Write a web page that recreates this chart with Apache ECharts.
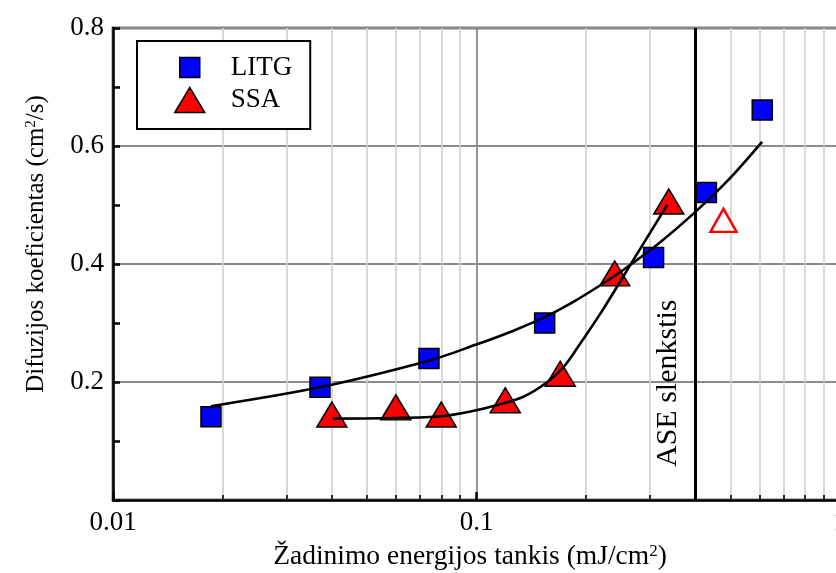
<!DOCTYPE html>
<html>
<head>
<meta charset="utf-8">
<script src="https://cdn.jsdelivr.net/npm/echarts@6/dist/echarts.min.js"></script>
<style>
  html, body { margin: 0; padding: 0; background: #fff; }
  #chart { width: 836px; height: 573px; }
</style>
</head>
<body>
<div id="chart"></div>
<script>
const FONT = '"Liberation Serif", "Times New Roman", serif';

// LITG measurements: excitation energy density (mJ/cm2) vs diffusion coefficient (cm2/s)
const litgEnergy = [0.0186, 0.0371, 0.074, 0.154, 0.307, 0.429, 0.611];
const litgDiff   = [0.141, 0.191, 0.240, 0.300, 0.411, 0.521, 0.661];

// SSA measurements; the last point lies above the ASE threshold (drawn hollow)
const ssaEnergy = [0.040, 0.060, 0.080, 0.120, 0.170, 0.240, 0.338, 0.478];
const ssaDiff   = [0.145, 0.157, 0.145, 0.169, 0.214, 0.384, 0.506, 0.474];
const ssaHollow = [false, false, false, false, false, false, false, true];

// Fitted trend curves
const litgFitEnergy = [0.0186, 0.0370, 0.0747, 0.0994, 0.1264, 0.1528, 0.1847, 0.2191, 0.2600, 0.3202, 0.3947, 0.4923, 0.6105];
const litgFitDiff   = [0.159, 0.191, 0.237, 0.263, 0.287, 0.309, 0.336, 0.364, 0.395, 0.437, 0.485, 0.542, 0.607];
const ssaFitEnergy  = [0.0402, 0.0599, 0.0801, 0.0963, 0.1142, 0.1346, 0.1567, 0.1734, 0.1895, 0.2234, 0.2734, 0.3346];
const ssaFitDiff    = [0.138, 0.139, 0.142, 0.150, 0.161, 0.175, 0.200, 0.225, 0.258, 0.324, 0.412, 0.500];

// ASE threshold energy density
const aseThreshold = 0.4;
const aseLabel = 'ASE slenkstis';

// Axis ranges and minor log ticks
const xRange = [0.01, 1];
const yRange = [0, 0.8];
const yStep = 0.2;
const minorEnergyTicks = [0.02, 0.03, 0.04, 0.05, 0.06, 0.07, 0.08, 0.09,
                          0.2, 0.3, 0.4, 0.5, 0.6, 0.7, 0.8, 0.9];

const seriesNames = ['LITG', 'SSA'];
const xTitle = '{n|Žadinimo energijos tankis (mJ/cm}{s|2}{n|)}';
const yTitle = '{n|Difuzijos koeficientas (cm}{s|2}{n|/s)}';

const zip = (xs, ys) => xs.map((x, i) => [x, ys[i]]);

const chart = echarts.init(document.getElementById('chart'), null, { renderer: 'canvas' });

const minorTickLen = 0.0085;
const minorMarks = [];
minorEnergyTicks.forEach(v => {
  minorMarks.push({ xAxis: v, lineStyle: { color: '#d0d0d0', width: 1.6, type: 'solid' } });
  minorMarks.push([
    { coord: [v, yRange[0]], lineStyle: { color: '#000', width: 1.6, type: 'solid' } },
    { coord: [v, yRange[0] + minorTickLen] }
  ]);
});

const richFor = (size) => ({
  n: { fontFamily: FONT, fontSize: size, color: '#000' },
  s: { fontFamily: FONT, fontSize: Math.round(size * 0.6), color: '#000', verticalAlign: 'top', padding: [0, 0, 6, 0] }
});

const legendText = { fontFamily: FONT, fontSize: 27, color: '#000' };

const option = {
  backgroundColor: '#fff',
  animation: false,
  grid: {
    left: 113, top: 28, width: 727, height: 472,
    outerBoundsMode: 'none', containLabel: false,
    show: true, borderColor: '#000', borderWidth: 2.5, backgroundColor: 'transparent'
  },
  xAxis: {
    type: 'log', logBase: 10, min: xRange[0], max: xRange[1],
    axisLine: { show: true, onZero: false, lineStyle: { color: '#000', width: 2.5 } },
    axisTick: { show: true, inside: true, length: 8, lineStyle: { color: '#000', width: 2.5 } },
    axisLabel: { color: '#000', fontFamily: FONT, fontSize: 27, margin: 9 },
    splitLine: { show: true, lineStyle: { color: '#8a8a8a', width: 1.8 } }
  },
  yAxis: {
    type: 'value', min: yRange[0], max: yRange[1], interval: yStep,
    axisLine: { show: true, onZero: false, lineStyle: { color: '#000', width: 2.5 } },
    axisTick: { show: true, inside: true, length: 7, lineStyle: { color: '#000', width: 2.5 } },
    minorTick: { show: true, splitNumber: 2, length: 7, lineStyle: { color: '#000', width: 2.5 } },
    axisLabel: {
      color: '#000', fontFamily: FONT, fontSize: 27, margin: 9,
      formatter: v => (v === 0 ? '' : v.toFixed(1))
    },
    splitLine: { show: true, lineStyle: { color: '#8a8a8a', width: 1.8 } }
  },
  legend: [
    {
      data: [seriesNames[0]], orient: 'vertical', left: 137, top: 41,
      itemWidth: 20, itemHeight: 20, icon: 'rect',
      padding: [13, 18, 48, 42],
      borderColor: '#000', borderWidth: 2, backgroundColor: '#fff',
      itemStyle: { borderColor: '#000', borderWidth: 1.5 },
      textStyle: Object.assign({ padding: [0, 0, 0, 26] }, legendText)
    },
    {
      data: [seriesNames[1]], orient: 'vertical', left: 174, top: 86.5,
      itemWidth: 30, itemHeight: 25, icon: 'triangle',
      padding: 0,
      itemStyle: { borderColor: '#000', borderWidth: 1.5 },
      textStyle: Object.assign({ padding: [0, 0, 0, 21] }, legendText)
    }
  ],
  graphic: [
    {
      type: 'text', x: 470, y: 557, silent: true,
      style: { text: xTitle, rich: richFor(27.5), align: 'center', verticalAlign: 'middle' }
    },
    {
      type: 'text', x: 36, y: 244, rotation: Math.PI / 2, silent: true,
      style: { text: yTitle, rich: richFor(25), align: 'center', verticalAlign: 'middle' }
    }
  ],
  series: [
    {
      // light minor grid lines and minor ticks of the log axis
      type: 'line', data: [], silent: true, z: 1,
      markLine: {
        silent: true, symbol: 'none', z: 1, animation: false,
        label: { show: false },
        data: minorMarks
      }
    },
    {
      name: seriesNames[0], type: 'scatter', z: 3,
      symbol: 'rect', symbolSize: 20,
      itemStyle: { color: '#0000ff', borderColor: '#000', borderWidth: 1.5, opacity: 1 },
      data: zip(litgEnergy, litgDiff)
    },
    {
      name: seriesNames[1], type: 'scatter', z: 3,
      symbol: 'triangle', symbolSize: [30, 25],
      itemStyle: { color: '#ff0000', borderColor: '#000', borderWidth: 1.5, opacity: 1 },
      data: ssaEnergy.map((x, i) => ssaHollow[i]
        ? { value: [x, ssaDiff[i]], symbolSize: [26, 23],
            itemStyle: { color: '#fff', borderColor: '#ff0000', borderWidth: 2.5 } }
        : [x, ssaDiff[i]])
    },
    {
      type: 'line', z: 4, silent: true, smooth: 0.3, showSymbol: false, symbol: 'none',
      lineStyle: { color: '#000', width: 2.6 },
      data: zip(litgFitEnergy, litgFitDiff),
      markLine: {
        silent: true, symbol: 'none', z: 2, animation: false,
        lineStyle: { color: '#000', width: 3, type: 'solid' },
        label: {
          show: true, formatter: aseLabel, position: 'insideStartTop',
          fontFamily: FONT, fontSize: 30, color: '#000', distance: [33, 12]
        },
        data: [{ xAxis: aseThreshold }]
      }
    },
    {
      type: 'line', z: 4, silent: true, smooth: 0.3, showSymbol: false, symbol: 'none',
      lineStyle: { color: '#000', width: 2.6 },
      data: zip(ssaFitEnergy, ssaFitDiff)
    }
  ]
};

chart.setOption(option);
</script>
</body>
</html>
